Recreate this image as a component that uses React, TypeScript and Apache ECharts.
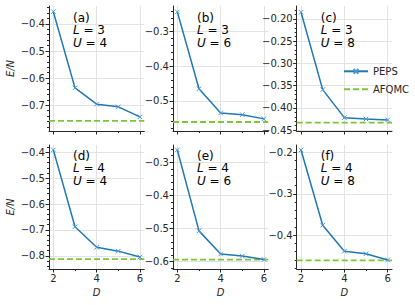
import React, { useEffect, useRef } from 'react';
import * as echarts from 'echarts';

// ---- data ----
const D_VALUES = [2, 3, 4, 5, 6];
const X_MIN = 1.8;
const X_MAX = 6.2;
const X_MAJOR = [2, 4, 6];
const X_MINOR = [3, 5];

const PANEL_TAGS = ['(a)', '(b)', '(c)', '(d)', '(e)', '(f)'];
const L_VALUES = [3, 3, 3, 4, 4, 4];
const U_VALUES = [4, 6, 8, 4, 6, 8];

const PEPS_A = [-0.355, -0.636, -0.696, -0.706, -0.743];
const PEPS_B = [-0.243, -0.465, -0.535, -0.54, -0.552];
const PEPS_C = [-0.185, -0.359, -0.422, -0.425, -0.427];
const PEPS_D = [-0.391, -0.688, -0.767, -0.782, -0.805];
const PEPS_E = [-0.263, -0.507, -0.577, -0.583, -0.593];
const PEPS_F = [-0.194, -0.376, -0.439, -0.445, -0.46];
const PEPS = [PEPS_A, PEPS_B, PEPS_C, PEPS_D, PEPS_E, PEPS_F];

const AFQMC = [-0.758, -0.561, -0.433, -0.813, -0.594, -0.461];

const Y_MIN = [-0.795, -0.587, -0.452, -0.851, -0.622, -0.482];
const Y_MAX = [-0.334, -0.226, -0.171, -0.372, -0.248, -0.182];

const Y_TICKS_A = [-0.7, -0.6, -0.5, -0.4];
const Y_TICKS_B = [-0.5, -0.4, -0.3];
const Y_TICKS_C = [-0.45, -0.4, -0.35, -0.3, -0.25, -0.2];
const Y_TICKS_D = [-0.8, -0.7, -0.6, -0.5, -0.4];
const Y_TICKS_E = [-0.6, -0.5, -0.4, -0.3];
const Y_TICKS_F = [-0.4, -0.3, -0.2];
const Y_TICKS = [Y_TICKS_A, Y_TICKS_B, Y_TICKS_C, Y_TICKS_D, Y_TICKS_E, Y_TICKS_F];
const Y_DECIMALS = [1, 1, 2, 1, 1, 1];

// ---- layout / style ----
const COL_LEFT = [49, 173, 296.7];
const ROW_TOP = [6, 145];
const GRID_W = 95.3;
const ROW_H = [125, 124];
const FONT = '"DejaVu Sans", sans-serif';
const INK = '#262626';
const GRID_COLOR = '#e3e3e3';
const BLUE = '#1f77b4';
const GREEN = '#7cc63c';

function minorTicks(major: number[], lo: number, hi: number): number[] {
  const step = Math.abs(major[1] - major[0]) / 5;
  const out: number[] = [];
  const start = Math.ceil(lo / step - 1e-6);
  const end = Math.floor(hi / step + 1e-6);
  for (let k = start; k <= end; k++) {
    const v = +(k * step).toFixed(4);
    const isMajor = major.some((m) => Math.abs(m - v) < 1e-6);
    if (!isMajor) out.push(v);
  }
  return out;
}

function fmt(v: number, dec: number) {
  const s = Math.abs(v).toFixed(dec);
  return v < 0 ? '\u2212' + s : s;
}

export default function App() {
  const ref = useRef<HTMLDivElement>(null);
  useEffect(() => {
    if (!ref.current) return;
    const chart = echarts.init(ref.current, undefined, { renderer: 'svg' });
    const grids: any[] = [];
    const xAxes: any[] = [];
    const yAxes: any[] = [];
    const series: any[] = [];
    const graphics: any[] = [];

    for (let i = 0; i < 6; i++) {
      const row = Math.floor(i / 3);
      const col = i % 3;
      grids.push({
        left: COL_LEFT[col],
        top: ROW_TOP[row],
        width: GRID_W,
        height: ROW_H[row],
        containLabel: false,
        outerBoundsMode: 'none',
      });
      const axisLineStyle = { color: INK, width: 1 };
      xAxes.push({
        type: 'value',
        gridIndex: i,
        min: X_MIN,
        max: X_MAX,
        position: 'bottom',
        axisLine: { show: true, onZero: false, lineStyle: axisLineStyle },
        axisTick: { show: true, length: 3.5, customValues: X_MAJOR, lineStyle: axisLineStyle },
        axisLabel: {
          show: row === 1,
          customValues: X_MAJOR,
          fontSize: 10,
          color: INK,
          fontFamily: FONT,
          margin: 4,
        },
        splitLine: { show: true, lineStyle: { color: GRID_COLOR, width: 1 } },
        name: row === 1 ? 'D' : '',
        nameLocation: 'middle',
        nameGap: 18,
        nameTextStyle: { fontStyle: 'italic', fontSize: 10, color: INK, fontFamily: FONT },
      });
      xAxes.push({
        type: 'value',
        gridIndex: i,
        min: X_MIN,
        max: X_MAX,
        position: 'bottom',
        axisLine: { show: false, onZero: false },
        axisTick: { show: true, length: 2, customValues: X_MINOR, lineStyle: axisLineStyle },
        axisLabel: { show: false },
        splitLine: { show: false },
      });
      yAxes.push({
        type: 'value',
        gridIndex: i,
        min: Y_MIN[i],
        max: Y_MAX[i],
        position: 'left',
        axisLine: { show: true, onZero: false, lineStyle: axisLineStyle },
        axisTick: { show: true, length: 3.5, customValues: Y_TICKS[i], lineStyle: axisLineStyle },
        axisLabel: {
          show: true,
          customValues: Y_TICKS[i],
          formatter: (v: number) => fmt(v, Y_DECIMALS[i]),
          fontSize: 10,
          color: INK,
          fontFamily: FONT,
          margin: 4,
        },
        splitLine: { show: true, lineStyle: { color: GRID_COLOR, width: 1 } },
        name: col === 0 ? 'E/N' : '',
        nameLocation: 'middle',
        nameGap: 34,
        nameTextStyle: { fontStyle: 'italic', fontSize: 10, color: INK, fontFamily: FONT },
      });
      yAxes.push({
        type: 'value',
        gridIndex: i,
        min: Y_MIN[i],
        max: Y_MAX[i],
        position: 'left',
        axisLine: { show: false, onZero: false },
        axisTick: {
          show: true,
          length: 2,
          customValues: minorTicks(Y_TICKS[i], Y_MIN[i], Y_MAX[i]),
          lineStyle: axisLineStyle,
        },
        axisLabel: { show: false },
        splitLine: { show: false },
      });

      series.push({
        type: 'line',
        name: 'PEPS',
        xAxisIndex: 2 * i,
        yAxisIndex: 2 * i,
        data: D_VALUES.map((d, j) => [d, PEPS[i][j]]),
        symbol: 'path://M0 0L10 10M10 0L0 10',
        symbolSize: 4.5,
        itemStyle: { color: 'rgba(0,0,0,0)', borderColor: '#4c98d6', borderWidth: 1 },
        lineStyle: { color: BLUE, width: 1.5 },
        z: 3,
      });
      series.push({
        type: 'line',
        name: 'AFQMC',
        xAxisIndex: 2 * i,
        yAxisIndex: 2 * i,
        data: [
          [X_MIN, AFQMC[i]],
          [X_MAX, AFQMC[i]],
        ],
        symbol: 'none',
        itemStyle: { color: GREEN },
        lineStyle: { color: GREEN, width: 1.8, type: [6, 3] },
        z: 2,
      });

      graphics.push({
        type: 'text',
        left: COL_LEFT[col] + 24,
        top: ROW_TOP[row] + (row === 0 ? 5.5 : 4.5),
        z: 10,
        style: {
          text: `${PANEL_TAGS[i]}\n{i|L} = ${L_VALUES[i]}\n{i|U} = ${U_VALUES[i]}`,
          fontSize: 12,
          lineHeight: 12.5,
          fontFamily: FONT,
          fill: '#000',
          rich: {
            i: { fontStyle: 'italic', fontSize: 12, lineHeight: 12.5, fontFamily: FONT, fill: '#000' },
          },
        },
      });
    }

    chart.setOption({
      animation: false,
      backgroundColor: '#ffffff',
      grid: grids,
      xAxis: xAxes,
      yAxis: yAxes,
      series,
      graphic: graphics,
      legend: {
        data: [
          { name: 'PEPS' },
          { name: 'AFQMC', itemStyle: { opacity: 0 } },
        ],
        orient: 'vertical',
        left: 338,
        top: 61.3,
        itemWidth: 24,
        itemHeight: 6,
        itemGap: 8,
        textStyle: { fontSize: 10, color: INK, fontFamily: FONT },
      },
    });
    return () => chart.dispose();
  }, []);

  return (
    <div
      ref={ref}
      style={{ position: 'fixed', left: 0, top: 0, width: 415, height: 305, background: '#fff' }}
    />
  );
}
